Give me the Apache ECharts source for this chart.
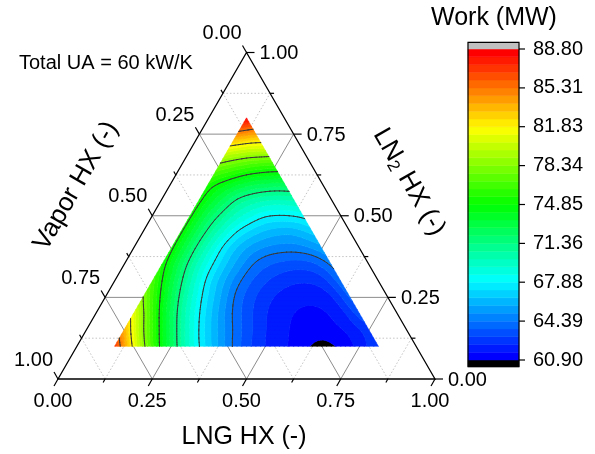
<!DOCTYPE html>
<html>
<head>
<meta charset="utf-8">
<script src="https://cdn.jsdelivr.net/npm/echarts@6/dist/echarts.min.js"></script>
<style>
html,body{margin:0;padding:0;background:#fff;}
#chart{width:595px;height:454px;}
</style>
</head>
<body>
<div id="chart"></div>
<script>
// ================= DATA =================
// Composition grid: LNG HX fraction (a) and LN2 HX fraction (b); Vapor HX = 1 - a - b
const lngGrid = [0.10,0.15,0.20,0.25,0.30,0.35,0.40,0.45,0.50,0.55,0.60,0.65,0.70,0.75,0.80];
const ln2Grid = [0.10,0.15,0.20,0.25,0.30,0.35,0.40,0.45,0.50,0.55,0.60,0.65,0.70,0.75,0.80];
// Work (MW): one array per LN2 HX value, indexed by LNG HX (only points with Vapor HX >= 0.10)
const work_LN2_010 = [87.0, 81.4, 76.3, 72.4, 69.0, 66.7, 64.74, 63.2, 62.2, 61.7, 61.15, 60.45, 61.05, 61.8, 63.0];
const work_LN2_015 = [83.6, 78.4, 74.3, 70.6, 67.7, 65.7, 64.0, 62.8, 61.9, 61.5, 61.35, 61.45, 61.7, 62.6];
const work_LN2_020 = [81.1, 76.25, 72.35, 69.1, 66.7, 64.7, 63.3, 62.3, 61.7, 61.45, 61.45, 61.8, 63.4];
const work_LN2_025 = [78.2, 74.5, 71.0, 68.1, 66.0, 64.0, 62.9, 62.2, 61.8, 61.7, 62.0, 63.8];
const work_LN2_030 = [76.6, 73.2, 70.0, 67.3, 65.4, 63.9, 63.0, 62.5, 62.3, 62.5, 64.1];
const work_LN2_035 = [75.4, 72.3, 69.4, 67.2, 65.5, 64.1, 63.5, 63.2, 63.3, 64.4];
const work_LN2_040 = [75.1, 72.1, 69.4, 67.0, 65.6, 64.9, 64.7, 64.8, 65.5];
const work_LN2_045 = [75.05, 72.15, 69.8, 67.7, 66.6, 66.0, 65.9, 66.7];
const work_LN2_050 = [75.1, 72.35, 70.4, 68.9, 67.85, 67.75, 68.05];
const work_LN2_055 = [75.2, 73.1, 71.1, 70.3, 69.9, 70.1];
const work_LN2_060 = [75.3, 74.3, 73.2, 72.7, 72.6];
const work_LN2_065 = [77.6, 76.75, 76.05, 75.7];
const work_LN2_070 = [80.65, 79.97, 79.9];
const work_LN2_075 = [84.7, 83.9];
const work_LN2_080 = [88.5];
const workRows = [work_LN2_010, work_LN2_015, work_LN2_020, work_LN2_025, work_LN2_030,
  work_LN2_035, work_LN2_040, work_LN2_045, work_LN2_050, work_LN2_055, work_LN2_060,
  work_LN2_065, work_LN2_070, work_LN2_075, work_LN2_080];

const axisTicks = [0, 0.25, 0.5, 0.75, 1];
const axisTickLabels = ['0.00', '0.25', '0.50', '0.75', '1.00'];
const minorTicks = [0.125, 0.375, 0.625, 0.875];
const colorbarTicks = [60.90, 64.39, 67.88, 71.36, 74.85, 78.34, 81.83, 85.31, 88.80];
const contourLevels = [64.39, 67.88, 71.36, 74.85, 78.34, 81.83, 85.31];
const workMin = 60.90, workMax = 88.80, bandCount = 40;

// ================= RENDERING =================
const FONT = '"Liberation Sans", Arial, Helvetica, sans-serif';
const S3 = Math.sqrt(3) / 2;
const cart = (a, b) => [a + b / 2, b * S3];
const bandStep = (workMax - workMin) / bandCount;

// colormap (blue - cyan - green - yellow - red)
const stops = [[0, [0, 0, 255]], [0.25, [0, 255, 255]], [0.5, [0, 255, 0]], [0.75, [255, 255, 0]], [1, [255, 0, 0]]];
function cmap(t) {
  t = Math.max(0, Math.min(1, t));
  for (let i = 1; i < stops.length; i++) {
    if (t <= stops[i][0]) {
      const f = (t - stops[i - 1][0]) / (stops[i][0] - stops[i - 1][0]);
      const c0 = stops[i - 1][1], c1 = stops[i][1];
      return 'rgb(' + c0.map((c, k) => Math.round(c + f * (c1[k] - c))).join(',') + ')';
    }
  }
  return 'rgb(255,0,0)';
}
function bandColor(k) {
  if (k < 0) return '#000000';
  if (k >= bandCount) return '#c0c0c0';
  return cmap(k / (bandCount - 1));
}
function bandOf(v) {
  let k = Math.floor((v - workMin) / bandStep + 1e-9);
  if (k < -1) k = -1;
  if (k > bandCount) k = bandCount;
  return k;
}

// fine mesh from the grid (barycentric on the ternary lattice, light smoothing)
const SUB = 4, SMOOTH = 6;
const N = lngGrid.length - 1;
const M = N * SUB;
const aStep = (lngGrid[1] - lngGrid[0]) / SUB, bStep = (ln2Grid[1] - ln2Grid[0]) / SUB;
const F = (i, j) => workRows[j][i];
let val = [];
for (let q = 0; q <= M; q++) {
  const row = [];
  for (let p = 0; p <= M - q; p++) {
    const i0 = Math.floor(p / SUB), j0 = Math.floor(q / SUB);
    const u = (p - i0 * SUB) / SUB, v = (q - j0 * SUB) / SUB;
    let f;
    if (u === 0 && v === 0) f = F(i0, j0);
    else if (u + v <= 1 + 1e-9) f = (1 - u - v) * F(i0, j0) + u * F(i0 + 1, j0) + v * F(i0, j0 + 1);
    else f = (1 - v) * F(i0 + 1, j0) + (1 - u) * F(i0, j0 + 1) + (u + v - 1) * F(i0 + 1, j0 + 1);
    row.push(f);
  }
  val.push(row);
}
for (let it = 0; it < SMOOTH; it++) {
  const nv = val.map(r => r.slice());
  for (let q = 0; q <= M; q++) {
    for (let p = 0; p <= M - q; p++) {
      const onB = q === 0, onL = p === 0, onR = p + q === M;
      if ((onB ? 1 : 0) + (onL ? 1 : 0) + (onR ? 1 : 0) >= 2) continue;
      let nb;
      if (onB) nb = [val[0][p - 1], val[0][p + 1]];
      else if (onL) nb = [val[q - 1][0], val[q + 1][0]];
      else if (onR) nb = [val[q - 1][p + 1], val[q + 1][p - 1]];
      else nb = [val[q][p - 1], val[q][p + 1], val[q - 1][p], val[q + 1][p], val[q - 1][p + 1], val[q + 1][p - 1]];
      nv[q][p] = 0.5 * val[q][p] + 0.5 * nb.reduce((s, x) => s + x, 0) / nb.length;
    }
  }
  val = nv;
}
const node = (p, q) => {
  const c = cart(lngGrid[0] + p * aStep, ln2Grid[0] + q * bStep);
  return { X: c[0], Y: c[1], v: val[q][p] };
};
const tris = [];
for (let q = 0; q < M; q++) {
  for (let p = 0; p < M - q; p++) {
    tris.push([node(p, q), node(p + 1, q), node(p, q + 1)]);
    if (p + q <= M - 2) tris.push([node(p + 1, q), node(p + 1, q + 1), node(p, q + 1)]);
  }
}
function clipPoly(poly, L, keepAbove) {
  const out = [];
  const inside = n => keepAbove ? n.v >= L : n.v <= L;
  for (let i = 0; i < poly.length; i++) {
    const S = poly[(i + poly.length - 1) % poly.length], E = poly[i];
    const si = inside(S), ei = inside(E);
    if (ei) {
      if (!si) { const t = (L - S.v) / (E.v - S.v); out.push({ X: S.X + t * (E.X - S.X), Y: S.Y + t * (E.Y - S.Y), v: L }); }
      out.push(E);
    } else if (si) {
      const t = (L - S.v) / (E.v - S.v); out.push({ X: S.X + t * (E.X - S.X), Y: S.Y + t * (E.Y - S.Y), v: L });
    }
  }
  return out;
}
const bandPolys = [];
for (let k = -1; k <= bandCount; k++) bandPolys.push([]);
const contourSegs = contourLevels.map(() => []);
tris.forEach(t => {
  const vs = t.map(n => n.v);
  const k0 = bandOf(Math.min(...vs)), k1 = bandOf(Math.max(...vs));
  if (k0 === k1) bandPolys[k0 + 1].push(t.map(n => [n.X, n.Y]));
  else {
    for (let k = k0; k <= k1; k++) {
      let poly = t;
      if (k > -1) poly = clipPoly(poly, workMin + k * bandStep, true);
      if (poly.length >= 3 && k < bandCount) poly = clipPoly(poly, workMin + (k + 1) * bandStep, false);
      if (poly.length >= 3) bandPolys[k + 1].push(poly.map(n => [n.X, n.Y]));
    }
  }
  contourLevels.forEach((L, li) => {
    const pts = [];
    [[0, 1], [1, 2], [2, 0]].forEach(e => {
      const A = t[e[0]], B = t[e[1]];
      if ((A.v >= L) !== (B.v >= L)) {
        const tt = (L - A.v) / (B.v - A.v);
        pts.push([A.X + tt * (B.X - A.X), A.Y + tt * (B.Y - A.Y)]);
      }
    });
    if (pts.length === 2) contourSegs[li].push(pts);
  });
});

// grid lines of the ternary diagram (constant a, b, c)
const gridLineItems = [];
[[0.25, 1], [0.5, 1], [0.75, 1], [0.125, 0], [0.375, 0], [0.625, 0], [0.875, 0]].forEach(([v, major]) => {
  gridLineItems.push([v, 0, v, 1 - v, major]);        // constant LNG
  gridLineItems.push([0, v, 1 - v, v, major]);        // constant LN2
  gridLineItems.push([1 - v, 0, 0, 1 - v, major]);    // constant Vapor
});

const chart = echarts.init(document.getElementById('chart'), null, { renderer: 'canvas' });
const txt = (s, x, y, align, size) => ({
  type: 'text', x: x, y: y,
  style: { text: s, fontSize: size || 20, fontFamily: FONT, fill: '#000', align: align, verticalAlign: 'middle' }
});
const seg = (p1, p2, w) => ({ type: 'line', shape: { x1: p1[0], y1: p1[1], x2: p2[0], y2: p2[1] }, style: { stroke: '#000', lineWidth: w || 1.2 } });

const option = {
  animation: false,
  backgroundColor: '#fff',
  grid: [
    { left: 58, top: 52.5, width: 377, height: 326.5 },
    { left: 468, top: 49, width: 51, height: 311 }
  ],
  xAxis: [
    { gridIndex: 0, type: 'value', min: 0, max: 1, show: false },
    { gridIndex: 1, type: 'value', min: 0, max: 1, show: false }
  ],
  yAxis: [
    { gridIndex: 0, type: 'value', min: 0, max: S3, show: false },
    { gridIndex: 1, type: 'value', min: workMin, max: workMax, show: false }
  ],
  graphic: [
    { type: 'text', x: 19, y: 63, style: { text: 'Total UA = 60 kW/K', fontSize: 20, fontFamily: FONT, fill: '#000', align: 'left', verticalAlign: 'middle' } },
    { type: 'text', x: 494, y: 18, style: { text: 'Work (MW)', fontSize: 25, fontFamily: FONT, fill: '#000', align: 'center', verticalAlign: 'middle' } },
    { type: 'text', x: 244, y: 437, style: { text: 'LNG HX (-)', fontSize: 25, fontFamily: FONT, fill: '#000', align: 'center', verticalAlign: 'middle' } },
    { type: 'text', x: 76, y: 186, rotation: Math.PI / 3, style: { text: 'Vapor HX (-)', fontSize: 26, fontFamily: FONT, fill: '#000', align: 'center', verticalAlign: 'middle' } },
    { type: 'text', x: 409, y: 182, rotation: -Math.PI / 3, style: {
        text: '{n|LN}{s|2}{n| HX (-)}', align: 'center', verticalAlign: 'middle',
        rich: {
          n: { fontSize: 26, fontFamily: FONT, fill: '#000' },
          s: { fontSize: 17, fontFamily: FONT, fill: '#000', padding: [12, 0, 0, 0] }
        } } }
  ],
  series: [
    { // ternary grid lines
      type: 'custom', coordinateSystem: 'cartesian2d', xAxisIndex: 0, yAxisIndex: 0, z: 1, silent: true,
      data: gridLineItems, encode: { x: 0, y: 1 },
      renderItem: (params, api) => {
        const p1 = api.coord(cart(api.value(0), api.value(1)));
        const p2 = api.coord(cart(api.value(2), api.value(3)));
        const major = api.value(4) === 1;
        return { type: 'line', shape: { x1: p1[0], y1: p1[1], x2: p2[0], y2: p2[1] },
          style: major ? { stroke: '#8c8c8c', lineWidth: 1 } : { stroke: '#c4c4c4', lineWidth: 1, lineDash: [1.5, 2] } };
      }
    },
    { // filled contour bands
      type: 'custom', coordinateSystem: 'cartesian2d', xAxisIndex: 0, yAxisIndex: 0, z: 2, silent: true,
      data: bandPolys.map((_, i) => [0, 0, i]), encode: { x: 0, y: 1 },
      renderItem: (params, api) => {
        const idx = api.value(2);
        const polys = bandPolys[idx];
        if (!polys.length) return null;
        let d = '';
        polys.forEach(poly => {
          poly.forEach((pt, i) => { const c = api.coord(pt); d += (i ? 'L' : 'M') + c[0].toFixed(2) + ' ' + c[1].toFixed(2); });
          d += 'Z';
        });
        const col = bandColor(idx - 1);
        return { type: 'path', shape: { pathData: d }, style: { fill: col, stroke: col, lineWidth: 0.5 } };
      }
    },
    { // contour lines
      type: 'custom', coordinateSystem: 'cartesian2d', xAxisIndex: 0, yAxisIndex: 0, z: 3, silent: true,
      data: contourLevels.map((_, i) => [0, 0, i]), encode: { x: 0, y: 1 },
      renderItem: (params, api) => {
        const segs = contourSegs[api.value(2)];
        if (!segs.length) return null;
        let d = '';
        segs.forEach(s => {
          const c1 = api.coord(s[0]), c2 = api.coord(s[1]);
          d += 'M' + c1[0].toFixed(2) + ' ' + c1[1].toFixed(2) + 'L' + c2[0].toFixed(2) + ' ' + c2[1].toFixed(2);
        });
        return { type: 'path', shape: { pathData: d }, style: { fill: null, stroke: '#383838', lineWidth: 1, lineCap: 'round' } };
      }
    },
    { // triangle frame, ticks, labels
      type: 'custom', coordinateSystem: 'cartesian2d', xAxisIndex: 0, yAxisIndex: 0, z: 5, silent: true,
      data: [[0, 0]], encode: { x: 0, y: 1 },
      renderItem: (params, api) => {
        const P = (a, b) => api.coord(cart(a, b));
        const ch = [];
        ch.push({ type: 'polygon', shape: { points: [P(0, 0), P(1, 0), P(0, 1)] }, style: { fill: null, stroke: '#000', lineWidth: 1.3 } });
        const addTicks = (v, len) => {
          let p = P(v, 0); ch.push(seg(p, [p[0] - len * 0.5, p[1] + len * S3]));            // LNG (bottom)
          p = P(0, 1 - v); ch.push(seg(p, [p[0] - len * 0.5, p[1] - len * S3]));            // Vapor (left)
          p = P(1 - v, v); ch.push(seg(p, [p[0] + len, p[1]]));                             // LN2 (right)
        };
        axisTicks.forEach((v, i) => {
          addTicks(v, 8);
          let p = P(v, 0); ch.push(txt(axisTickLabels[i], p[0] - 5, p[1] + 22, 'center'));
          p = P(0, 1 - v); ch.push(txt(axisTickLabels[i], p[0] - 5, p[1] - 19, 'right'));
          p = P(1 - v, v); ch.push(txt(axisTickLabels[i], p[0] + 13, p[1] + 1, 'left'));
        });
        minorTicks.forEach(v => addTicks(v, 4));
        return { type: 'group', children: ch };
      }
    },
    { // colour scale
      type: 'custom', coordinateSystem: 'cartesian2d', xAxisIndex: 1, yAxisIndex: 1, z: 5, silent: true,
      data: [[0.5, workMin]], encode: { x: 0, y: 1 },
      renderItem: (params, api) => {
        const ch = [];
        const cap = 0.6;
        const x0 = api.coord([0, workMin])[0], x1 = api.coord([1, workMin])[0];
        for (let k = -1; k <= bandCount; k++) {
          const lo = k === -1 ? workMin - cap : workMin + k * bandStep;
          const hi = k === bandCount ? workMax + cap : workMin + (k + 1) * bandStep;
          const yT = api.coord([0, hi])[1], yB = api.coord([0, lo])[1];
          const col = bandColor(k);
          ch.push({ type: 'rect', shape: { x: x0, y: yT, width: x1 - x0, height: yB - yT }, style: { fill: col, stroke: col, lineWidth: 0.5 } });
        }
        const yT = api.coord([0, workMax + cap])[1], yB = api.coord([0, workMin - cap])[1];
        ch.push({ type: 'rect', shape: { x: x0, y: yT, width: x1 - x0, height: yB - yT }, style: { fill: null, stroke: '#000', lineWidth: 1.2 } });
        colorbarTicks.forEach(t => {
          const y = api.coord([1, t])[1];
          ch.push(seg([x1, y], [x1 + 6, y], 1.2));
          ch.push(txt(t.toFixed(2), x1 + 14, y, 'left'));
        });
        return { type: 'group', children: ch };
      }
    }
  ]
};
chart.setOption(option);
</script>
</body>
</html>
